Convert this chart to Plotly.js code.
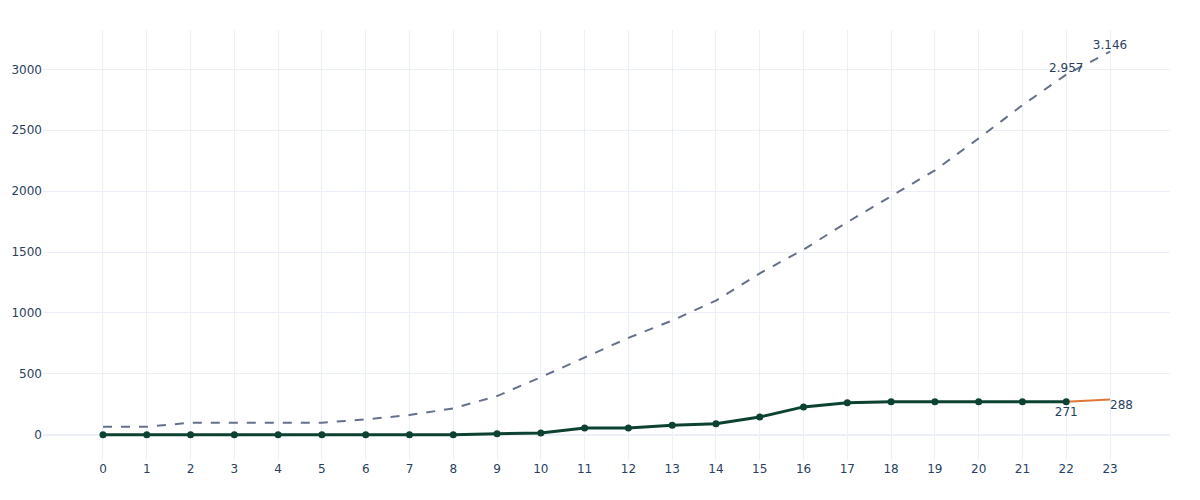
<!DOCTYPE html>
<html>
<head>
<meta charset="utf-8">
<script src="https://cdn.plot.ly/plotly-3.0.1.min.js"></script>
<style>html,body{margin:0;padding:0;background:#fff;}#chart{width:1200px;height:500px;}</style>
</head>
<body>
<div id="chart"></div>
<script>
const days = [0,1,2,3,4,5,6,7,8,9,10,11,12,13,14,15,16,17,18,19,20,21,22,23];
const dashedValues = [65,65,98,98,98,98,126,161,216,317,472,631,795,937,1101,1325,1520,1745,1955,2171,2433,2706,2957,3146];
const solidDays = [0,1,2,3,4,5,6,7,8,9,10,11,12,13,14,15,16,17,18,19,20,21,22];
const solidValues = [0,0,0,0,0,0,0,0,0,8,14,55,55,77,90,145,228,263,271,271,271,271,271];
const projDays = [22,23];
const projValues = [271,288];
const yTicks = [0,500,1000,1500,2000,2500,3000];
const dashedLabels = dashedValues.map((v,i)=> i>=dashedValues.length-2 ? v : null);
const solidLabels = solidValues.map((v,i)=> i===solidValues.length-1 ? v : null);
const projLabels = [null, projValues[1]];

function fmt(v){ return v===null ? '' : v.toString().replace(/\B(?=(\d{3})+(?!\d))/g,'.'); }

const traces = [
  {x: days, y: dashedValues, mode:'lines+text', type:'scatter',
   line:{color:'#65718a', width:2, dash:'dash'},
   text: dashedLabels.map(fmt), textposition:'top center',
   textfont:{color:'#2a3f5f', size:12}, hoverinfo:'skip'},
  {x: projDays, y: projValues, mode:'lines+text', type:'scatter',
   line:{color:'#df7634', width:2},
   text: projLabels.map(fmt), textposition:'bottom right',
   textfont:{color:'#2a3f5f', size:12}, hoverinfo:'skip'},
  {x: solidDays, y: solidValues, mode:'lines+markers+text', type:'scatter',
   line:{color:'#0d4232', width:3}, marker:{color:'#0d4232', size:7},
   text: solidLabels.map(fmt), textposition:'bottom center',
   textfont:{color:'#2a3f5f', size:12}, hoverinfo:'skip'}
];

const layout = {
  width:1200, height:500,
  margin:{l:43, r:30, t:30, b:40},
  paper_bgcolor:'#fff', plot_bgcolor:'#fff',
  showlegend:false,
  font:{family:'"DejaVu Sans", Verdana, sans-serif', color:'#2a3f5f', size:12},
  xaxis:{range:[-1.37,24.37], tickmode:'array', tickvals:days, ticktext:days.map(String),
         gridcolor:'#ebf0f8', zeroline:false, showline:false, ticks:''},
  yaxis:{range:[-208,3323], tickvals:yTicks,
         gridcolor:'#ebf0f8', zeroline:true, zerolinecolor:'#ebf0f8', zerolinewidth:2, showline:false, ticks:''}
};

Plotly.newPlot('chart', traces, layout, {displayModeBar:false, staticPlot:true});
</script>
</body>
</html>
